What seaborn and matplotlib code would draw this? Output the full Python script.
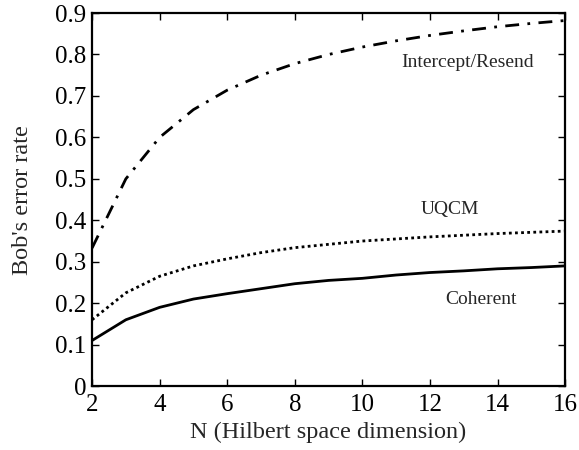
import matplotlib
matplotlib.use("Agg")
import matplotlib.pyplot as plt
import seaborn as sns
import pandas as pd

N = [2, 3, 4, 5, 6, 7, 8, 9, 10, 11, 12, 13, 14, 15, 16]
intercept_resend = [0.333, 0.500, 0.600, 0.667, 0.714, 0.750, 0.778, 0.800, 0.818,
                    0.833, 0.846, 0.857, 0.867, 0.875, 0.882]
uqcm = [0.160, 0.225, 0.265, 0.290, 0.307, 0.322, 0.334, 0.342, 0.350,
        0.355, 0.360, 0.364, 0.368, 0.371, 0.374]
coherent = [0.110, 0.160, 0.190, 0.210, 0.223, 0.235, 0.247, 0.255, 0.260,
            0.268, 0.274, 0.278, 0.283, 0.286, 0.290]

xticks = [2, 4, 6, 8, 10, 12, 14, 16]
yticks = [0, 0.1, 0.2, 0.3, 0.4, 0.5, 0.6, 0.7, 0.8, 0.9]
ytick_labels = ["0", "0.1", "0.2", "0.3", "0.4", "0.5", "0.6", "0.7", "0.8", "0.9"]

sns.set_style("ticks")
plt.rcParams["font.family"] = ["Liberation Serif", "DejaVu Serif"]

df = pd.DataFrame({"N": N, "ir": intercept_resend, "uqcm": uqcm, "coh": coherent})

fig = plt.figure(figsize=(5.79, 4.5), dpi=100)
ax = fig.add_axes([0.159, 0.142, 0.817, 0.829])

sns.lineplot(data=df, x="N", y="ir", ax=ax, color="black", lw=2.0,
             linestyle=(0, (5, 3, 1, 3)))
sns.lineplot(data=df, x="N", y="uqcm", ax=ax, color="black", lw=2.0,
             linestyle=(0, (1, 1.2)))
sns.lineplot(data=df, x="N", y="coh", ax=ax, color="black", lw=2.0, linestyle="-")

ax.set_xlim(2, 16)
ax.set_ylim(0, 0.9)
ax.set_xticks(xticks)
ax.set_xticklabels([str(t) for t in xticks])
ax.set_yticks(yticks)
ax.set_yticklabels(ytick_labels)
ax.tick_params(direction="in", top=True, right=True, labelsize=18, length=5,
               width=1, colors="black")
ax.tick_params(axis="x", pad=6)
ax.tick_params(axis="y", pad=4)
for s in ax.spines.values():
    s.set_visible(True)
    s.set_linewidth(1.6)
    s.set_color("black")

ax.set_xlabel("N (Hilbert space dimension)", fontsize=17.5, labelpad=4)
ax.set_ylabel("Bob's error rate", fontsize=17.5, labelpad=16)

ax.text(13.1, 0.78, "Intercept/Resend", fontsize=14, ha="center", va="center")
ax.text(12.6, 0.427, "UQCM", fontsize=14, ha="center", va="center")
ax.text(13.5, 0.208, "Coherent", fontsize=14, ha="center", va="center")

fig.savefig("out.png", dpi=100)
